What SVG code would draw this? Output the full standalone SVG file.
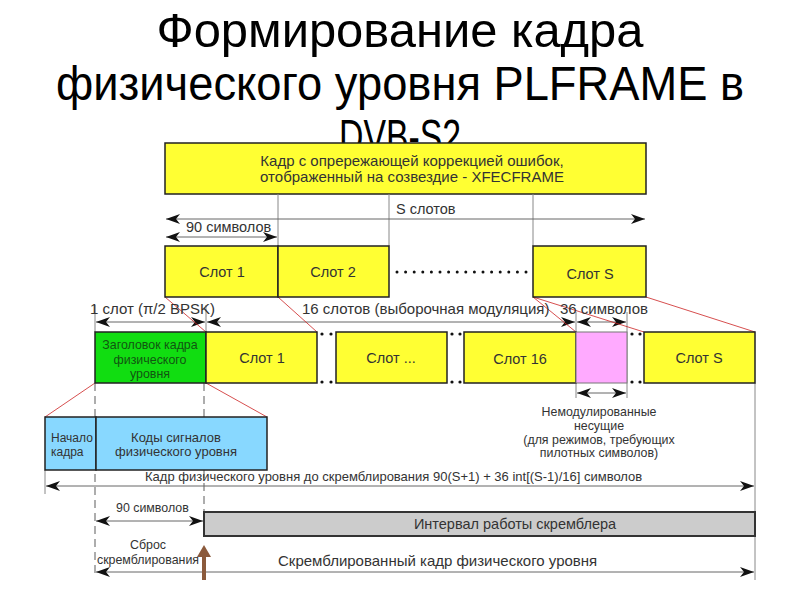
<svg xmlns="http://www.w3.org/2000/svg" width="800" height="600" viewBox="0 0 800 600">
<defs>
<style>
.t{font-family:"Liberation Sans",Arial,sans-serif;fill:#333}
.s15{font-size:15px}
.s145{font-size:14.5px}
.s13{font-size:13px}
.s125{font-size:12.4px}
.title{font-family:"Liberation Sans",Arial,sans-serif;font-size:48px;fill:#000}
.bx{stroke:#222;stroke-width:1.5}
.yel{fill:#ffff33}
.grn{fill:#11dd11}
.pnk{fill:#ffaaff;stroke:#777;stroke-width:1}
.blu{fill:#88d8ff}
.gry{fill:#cccccc}
.ln{stroke:#888;stroke-width:1;fill:none}
.dash{stroke:#777;stroke-width:1.2;stroke-dasharray:8 5;fill:none}
.red{stroke:#cc2222;stroke-width:0.8;fill:none}
.arr{stroke:#666;stroke-width:1;fill:none;marker-start:url(#ah);marker-end:url(#ah)}
.dot{fill:#111}
</style>
<marker id="ah" markerUnits="userSpaceOnUse" markerWidth="16" markerHeight="10" refX="14" refY="5" orient="auto-start-reverse">
<path d="M0,0 L14,5 L0,10 L4,5 z" fill="#111"/>
</marker>
<clipPath id="tclip"><rect x="0" y="0" width="800" height="143"/></clipPath>
</defs>
<rect width="800" height="600" fill="#fff"/>

<g id="title">
<text class="title" x="400" y="47" text-anchor="middle" textLength="487" lengthAdjust="spacingAndGlyphs">Формирование кадра</text>
<text class="title" x="400" y="100" text-anchor="middle" textLength="688" lengthAdjust="spacingAndGlyphs">физического уровня PLFRAME в</text>
<text class="title" x="400" y="153" text-anchor="middle" textLength="122" lengthAdjust="spacingAndGlyphs" clip-path="url(#tclip)">DVB-S2</text>
</g>

<g id="xfecframe">
<rect class="bx yel" x="165" y="143" width="481" height="51"/>
<text class="t s15" x="412" y="166" text-anchor="middle">Кадр с опрережающей коррекцией ошибок,</text>
<text class="t s15" x="412" y="182" text-anchor="middle">отображенный на созвездие - XFECFRAME</text>
</g>

<g id="connectors">
<path class="ln" d="M278,194V246M389,194V246M533,194V246"/>
<path class="arr" d="M166,219H645"/>
<path class="arr" d="M166,237H277"/>
<path class="ln" d="M95,305V332M206,305V332M576,312V332M627,312V398M576,383V398M755,383V580M45,470V494"/>
<path class="arr" d="M96,322H205"/>
<path class="arr" d="M207,322H575"/>
<path class="arr" d="M577,322H626"/>
<path class="arr" d="M577,393H626"/>
<path class="red" d="M165,297L206,332M278,297L317,332M533,297L576,332M533,297L644,332M646,297L755,332"/>
<path class="red" d="M95,383L45,417M206,383L267,417"/>
<path class="dash" d="M95,383V578M204,383V417M204,470V512"/>
<path class="arr" d="M46,486H754"/>
<path class="arr" d="M96,521H203"/>
<path class="arr" d="M96,572H754"/>
<path d="M204,580V555" stroke="#8b5a3c" stroke-width="4" fill="none"/>
<path d="M197,557L204,545L211,557z" fill="#8b5a3c"/>
<path d="M397,272H527" stroke="#111" stroke-width="3" stroke-linecap="round" stroke-dasharray="0 8.6" fill="none"/>
<g class="dot">
<circle cx="322" cy="334" r="1.6"/><circle cx="331" cy="334" r="1.6"/><circle cx="322" cy="382" r="1.6"/><circle cx="331" cy="382" r="1.6"/>
<circle cx="452" cy="334" r="1.6"/><circle cx="460" cy="334" r="1.6"/><circle cx="452" cy="382" r="1.6"/><circle cx="460" cy="382" r="1.6"/>
<circle cx="632" cy="334" r="1.6"/><circle cx="640" cy="334" r="1.6"/><circle cx="632" cy="382" r="1.6"/><circle cx="640" cy="382" r="1.6"/>
</g>
</g>

<g id="labels">
<text class="t s145" x="396" y="214">S слотов</text>
<text class="t s145" x="186" y="232">90 символов</text>
<text class="t s15" x="90" y="314">1 слот (π/2 BPSK)</text>
<text class="t s15" x="302" y="314">16 слотов (выборочная модуляция)</text>
<text class="t s15" x="560" y="314">36 символов</text>
<text class="t s13" x="145" y="481">Кадр физического уровня до скремблирования 90(S+1) + 36 int[(S-1)/16] символов</text>
<text class="t s125" x="116" y="512">90 символов</text>
<text class="t s125" x="148" y="549" text-anchor="middle">Сброс</text>
<text class="t s125" x="148" y="564" text-anchor="middle">скремблирования</text>
<text class="t s15" x="278" y="566">Скремблированный кадр физического уровня</text>
</g>

<g id="slot1-top"><rect class="bx yel" x="165" y="246" width="113" height="51"/><text class="t s145" x="222" y="277" text-anchor="middle">Слот 1</text></g>
<g id="slot2-top"><rect class="bx yel" x="278" y="246" width="111" height="51"/><text class="t s145" x="333" y="277" text-anchor="middle">Слот 2</text></g>
<g id="slotS-top"><rect class="bx yel" x="533" y="246" width="113" height="51"/><text class="t s145" x="590" y="279" text-anchor="middle">Слот S</text></g>

<g id="header"><rect class="bx grn" x="95" y="332" width="111" height="51"/>
<text x="150" y="349" text-anchor="middle" font-size="12.4" font-family="Liberation Sans,Arial,sans-serif" fill="#115511">Заголовок кадра</text>
<text x="150" y="364" text-anchor="middle" font-size="12.4" font-family="Liberation Sans,Arial,sans-serif" fill="#115511">физического</text>
<text x="150" y="378" text-anchor="middle" font-size="12.4" font-family="Liberation Sans,Arial,sans-serif" fill="#115511">уровня</text></g>
<g id="slot1"><rect class="bx yel" x="206" y="332" width="111" height="51"/><text class="t s145" x="262" y="363" text-anchor="middle">Слот 1</text></g>
<g id="slotdots"><rect class="bx yel" x="336" y="332" width="111" height="51"/><text class="t s145" x="391" y="363" text-anchor="middle">Слот ...</text></g>
<g id="slot16"><rect class="bx yel" x="464" y="332" width="112" height="51"/><text class="t s145" x="520" y="364" text-anchor="middle">Слот 16</text></g>
<g id="pilot"><rect class="pnk" x="576" y="332" width="51" height="51"/></g>
<g id="slotS"><rect class="bx yel" x="644" y="332" width="111" height="51"/><text class="t s145" x="699" y="363" text-anchor="middle">Слот S</text></g>

<g id="pilot-note">
<text class="t s125" x="599" y="416" text-anchor="middle">Немодулированные</text>
<text class="t s125" x="599" y="430" text-anchor="middle">несущие</text>
<text class="t s125" x="599" y="444" text-anchor="middle">(для режимов, требующих</text>
<text class="t s125" x="599" y="457" text-anchor="middle">пилотных символов)</text>
</g>

<g id="sof"><rect class="bx blu" x="45" y="417" width="51" height="53"/>
<text class="t" font-size="12" x="51" y="442">Начало</text><text class="t" font-size="12" x="51" y="456">кадра</text></g>
<g id="plsc"><rect class="bx blu" x="96" y="417" width="171" height="53"/>
<text class="t s13" x="176" y="442" text-anchor="middle">Коды сигналов</text><text class="t s13" x="176" y="456" text-anchor="middle">физического уровня</text></g>

<g id="scrambler"><rect x="204" y="512" width="551" height="24" class="gry" stroke="#333" stroke-width="2"/>
<text class="t s145" x="515" y="529" text-anchor="middle">Интервал работы скремблера</text></g>
</svg>
